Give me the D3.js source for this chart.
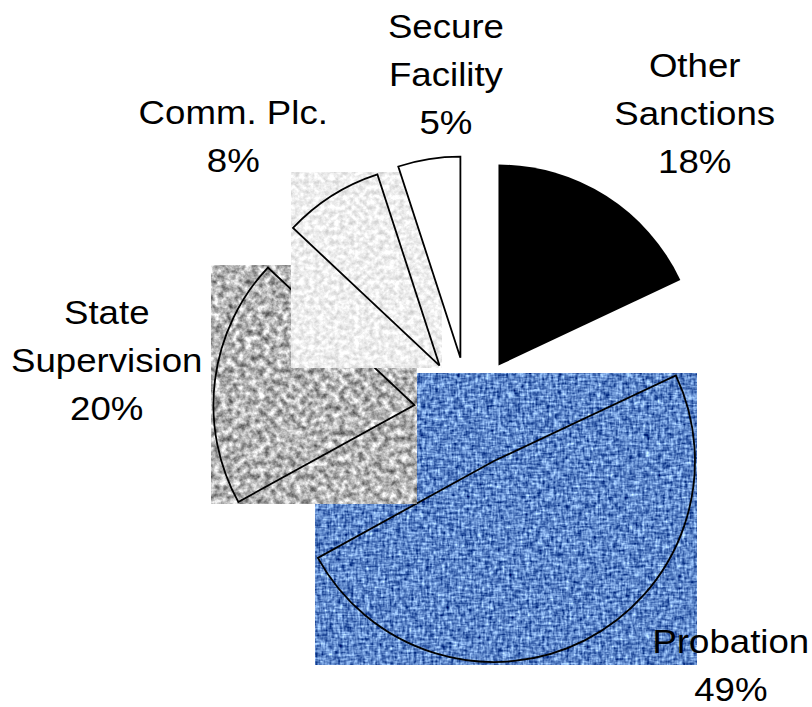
<!DOCTYPE html>
<html>
<head>
<meta charset="utf-8">
<script src="https://cdn.jsdelivr.net/npm/d3@7"></script>
<style>
  html, body { margin: 0; padding: 0; background: #ffffff; }
  svg { display: block; }
  text { font-family: "Liberation Sans", Arial, Helvetica, sans-serif; fill: #000; }
</style>
</head>
<body>
<svg id="chart" width="812" height="707"></svg>
<script>
// Sanction categories, in drawing order (clockwise from 12 o'clock)
const categories = ["Other Sanctions", "Probation", "State Supervision", "Comm. Plc.", "Secure Facility"];
// Share of dispositions, percent
const values = [18, 49, 20, 8, 5];
// Label text broken into lines
const labelLines = [["Other", "Sanctions"], ["Probation"], ["State", "Supervision"], ["Comm. Plc."], ["Secure", "Facility"]];

// ---- layout & style ----
const W = 812, H = 707;
const cx = 469, cy = 412;      // pie centre
const radius = 201;
const explode = 55;            // distance each slice is pulled out
const fontSize = 33, lineHeight = 48, glyphStretch = 1.11;
// label anchors: [angle from 12 o'clock in degrees, distance from centre]
const labelPolar = [[37, 375], [134, 364], [-81.8, 366], [-40.5, 363], [-3.9, 339]];
// slice fills: solid colours or texture filters
const fillStyle = [
  { solid: "#000000" },
  { texture: "texBlue" },
  { texture: "texGray" },
  { texture: "texLight" },
  { solid: "#ffffff" }
];

const svg = d3.select("#chart");
const defs = svg.append("defs");

function noiseFilter(id) {
  return defs.append("filter")
    .attr("id", id)
    .attr("filterUnits", "objectBoundingBox")
    .attr("x", 0).attr("y", 0).attr("width", 1).attr("height", 1)
    .attr("color-interpolation-filters", "sRGB");
}

// mottled mid-grey granite
const fg = noiseFilter("texGray");
fg.append("feTurbulence").attr("type", "fractalNoise").attr("baseFrequency", 0.16)
  .attr("numOctaves", 3).attr("seed", 7);
fg.append("feColorMatrix").attr("type", "matrix")
  .attr("values", "1.1 0 0 0 0.16  1.1 0 0 0 0.16  1.1 0 0 0 0.16  0 0 0 0 1");

// pale grey paper
const fl = noiseFilter("texLight");
fl.append("feTurbulence").attr("type", "fractalNoise").attr("baseFrequency", 0.2)
  .attr("numOctaves", 3).attr("seed", 11);
fl.append("feColorMatrix").attr("type", "matrix")
  .attr("values", "0.35 0 0 0 0.76  0.35 0 0 0 0.76  0.35 0 0 0 0.76  0 0 0 0 1");

// blue woven canvas: horizontal and vertical threads plus grain
const fb = noiseFilter("texBlue");
const opaque = "1 0 0 0 0  0 1 0 0 0  0 0 1 0 0  0 0 0 0 1";
fb.append("feTurbulence").attr("type", "fractalNoise").attr("baseFrequency", "0.45 0.1")
  .attr("numOctaves", 2).attr("seed", 3).attr("result", "h0");
fb.append("feColorMatrix").attr("in", "h0").attr("type", "matrix").attr("values", opaque).attr("result", "h");
fb.append("feTurbulence").attr("type", "fractalNoise").attr("baseFrequency", "0.1 0.45")
  .attr("numOctaves", 2).attr("seed", 5).attr("result", "v0");
fb.append("feColorMatrix").attr("in", "v0").attr("type", "matrix").attr("values", opaque).attr("result", "v");
fb.append("feTurbulence").attr("type", "fractalNoise").attr("baseFrequency", 0.25)
  .attr("numOctaves", 2).attr("seed", 9).attr("result", "n0");
fb.append("feColorMatrix").attr("in", "n0").attr("type", "matrix").attr("values", opaque).attr("result", "n");
fb.append("feComposite").attr("in", "h").attr("in2", "v").attr("operator", "arithmetic")
  .attr("k2", 0.5).attr("k3", 0.5).attr("result", "hv");
fb.append("feComposite").attr("in", "hv").attr("in2", "n").attr("operator", "arithmetic")
  .attr("k2", 0.65).attr("k3", 0.35).attr("result", "m");
fb.append("feColorMatrix").attr("in", "m").attr("type", "matrix")
  .attr("values", "1.9 0 0 0 -0.58  1.9 0 0 0 -0.42  1.5 0 0 0 0.04  0 0 0 0 1");

// ---- pie ----
const data = categories.map((c, i) => ({ name: c, v: values[i], lines: labelLines[i], i }));
const pie = d3.pie().sort(null).value(d => d.v).startAngle(0).endAngle(2 * Math.PI);
const arc = d3.arc().innerRadius(0).outerRadius(radius);
const arcs = pie(data);

const slices = svg.append("g").attr("class", "slices");
arcs.forEach(a => {
  const mid = (a.startAngle + a.endAngle) / 2;
  const ox = cx + Math.sin(mid) * explode;
  const oy = cy - Math.cos(mid) * explode;
  const g = slices.append("g").attr("transform", `translate(${ox},${oy})`);
  const style = fillStyle[a.data.i];
  const path = g.append("path").attr("d", arc(a))
    .attr("stroke", "#000").attr("stroke-width", 1.8).attr("stroke-linejoin", "miter");
  if (style.texture) {
    // textured fills cover the slice's bounding box, outline drawn over it
    const bb = path.node().getBBox();
    const pad = 2;
    g.insert("rect", "path")
      .attr("x", bb.x - pad).attr("y", bb.y - pad)
      .attr("width", bb.width + 2 * pad).attr("height", bb.height + 2 * pad)
      .attr("fill", "#888").attr("filter", `url(#${style.texture})`);
    path.attr("fill", "none");
  } else {
    path.attr("fill", style.solid);
    if (style.solid === "#000000") path.attr("stroke", "none");
  }
});

// ---- labels ----
const labels = svg.append("g").attr("class", "labels").attr("font-size", fontSize);
data.forEach((d, i) => {
  const [deg, dist] = labelPolar[i];
  const ang = deg * Math.PI / 180;
  const lx = cx + Math.sin(ang) * dist;
  const ly = cy - Math.cos(ang) * dist;
  const lines = d.lines.concat([d.v + "%"]);
  const n = lines.length;
  const t = labels.append("text").attr("text-anchor", "middle")
    .attr("transform", `translate(${lx},${ly}) scale(${glyphStretch},1)`);
  lines.forEach((s, k) => {
    t.append("tspan").attr("x", 0)
      .attr("y", 12 + (k - (n - 1) / 2) * lineHeight)
      .text(s);
  });
});
</script>
</body>
</html>
